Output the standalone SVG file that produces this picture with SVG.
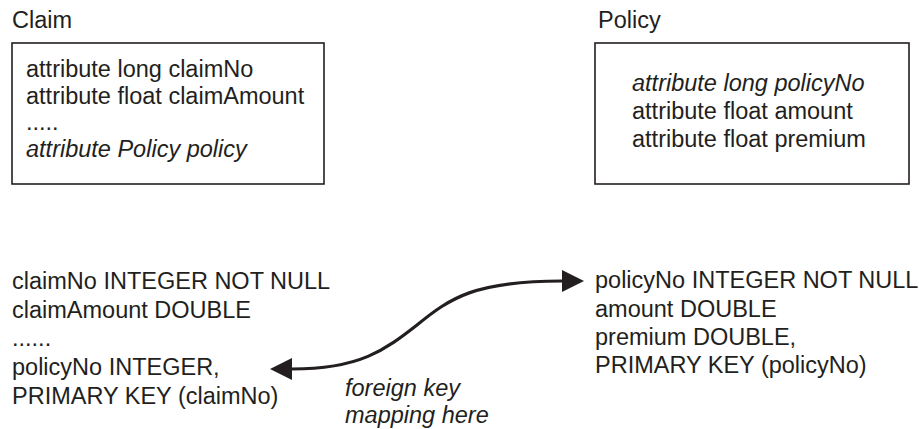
<svg xmlns="http://www.w3.org/2000/svg" width="919" height="429" viewBox="0 0 919 429">
  <style>
    text { font-family: "Liberation Sans", Arial, Helvetica, sans-serif; font-size: 23.5px; fill: #231f20; }
    .it { font-style: italic; }
    .box { fill: #ffffff; stroke: #231f20; stroke-width: 1.6; }
    .link { fill: none; stroke: #231f20; stroke-width: 3.2; }
  </style>
  <defs>
    <marker id="head" viewBox="0 0 10 10" refX="0" refY="5" markerWidth="22" markerHeight="23" markerUnits="userSpaceOnUse" orient="auto-start-reverse">
      <path d="M0,0 L10,5 L0,10 Z" fill="#231f20"/>
    </marker>
  </defs>
  <rect width="919" height="429" fill="#ffffff"/>

  <!-- Claim class -->
  <g id="claim-class">
    <text x="12" y="28">Claim</text>
    <rect class="box" x="12" y="43" width="312" height="141"/>
    <text x="26" y="77">attribute long claimNo</text>
    <text x="26" y="104">attribute float claimAmount</text>
    <text x="26" y="130">.....</text>
    <text class="it" x="26" y="157">attribute Policy policy</text>
  </g>

  <!-- Policy class -->
  <g id="policy-class">
    <text x="598" y="28">Policy</text>
    <rect class="box" x="595" y="43" width="314" height="141"/>
    <text class="it" x="632" y="91">attribute long policyNo</text>
    <text x="632" y="119">attribute float amount</text>
    <text x="632" y="147">attribute float premium</text>
  </g>

  <!-- Claim table -->
  <g id="claim-table">
    <text x="12" y="289">claimNo INTEGER NOT NULL</text>
    <text x="12" y="318">claimAmount DOUBLE</text>
    <text x="12" y="346">......</text>
    <text x="12" y="375">policyNo INTEGER,</text>
    <text x="12" y="404">PRIMARY KEY (claimNo)</text>
  </g>

  <!-- Policy table -->
  <g id="policy-table">
    <text x="595" y="288">policyNo INTEGER NOT NULL</text>
    <text x="595" y="317">amount DOUBLE</text>
    <text x="595" y="345">premium DOUBLE,</text>
    <text x="595" y="373">PRIMARY KEY (policyNo)</text>
  </g>

  <!-- foreign key mapping connector -->
  <g id="connectors">
    <path class="link" d="M292,369 C360,369 385,350 417,325 C450,298 475,281 562,281" marker-start="url(#head)" marker-end="url(#head)"/>
    <text class="it" x="345" y="396">foreign key</text>
    <text class="it" x="345" y="423">mapping here</text>
  </g>
</svg>
